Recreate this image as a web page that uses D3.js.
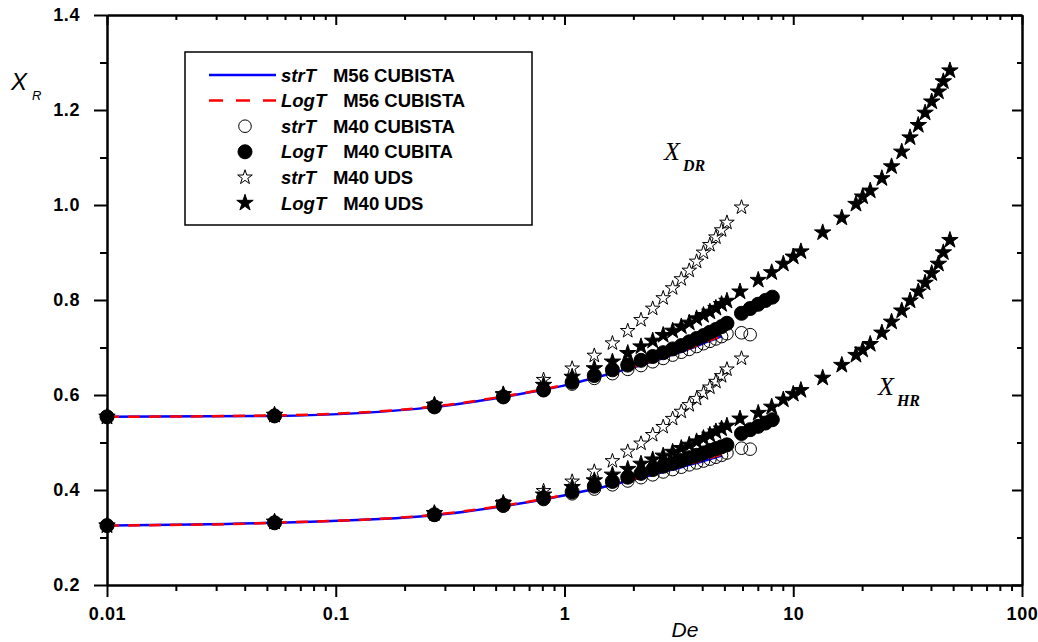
<!DOCTYPE html>
<html>
<head>
<meta charset="utf-8">
<script src="https://cdn.jsdelivr.net/npm/d3@7"></script>
<style>
  body { margin: 0; background: #fff; }
  svg { display: block; }
  .tick text { font-family: "Liberation Sans", Arial, sans-serif; font-weight: bold; font-size: 18px; letter-spacing: 0.6px; }
</style>
</head>
<body>
<div id="plot"></div>
<script>
// De sampling shared by the M40 runs (step 0.27)
var deGrid = [0.01, 0.054, 0.27, 0.54, 0.81, 1.08, 1.35, 1.62, 1.89, 2.16, 2.43,
  2.7, 2.97, 3.24, 3.51, 3.78, 4.05, 4.32, 4.59, 4.86, 5.13];

// M56 CUBISTA curves (lines)
var deM56 = deGrid.slice(0, 20);
var drM56Str = [0.554, 0.556, 0.575, 0.596, 0.611, 0.624, 0.636, 0.646, 0.655, 0.663, 0.671, 0.678, 0.685, 0.691, 0.697, 0.703, 0.709, 0.714, 0.719, 0.724];
var drM56Log = [0.554, 0.557, 0.576, 0.597, 0.612, 0.625, 0.637, 0.647, 0.656, 0.664, 0.672, 0.679, 0.686, 0.692, 0.698, 0.704, 0.710, 0.715, 0.720, 0.726];
var hrM56Str = [0.325, 0.331, 0.347, 0.366, 0.380, 0.392, 0.402, 0.411, 0.419, 0.426, 0.432, 0.438, 0.443, 0.448, 0.453, 0.457, 0.461, 0.465, 0.469, 0.472];
var hrM56Log = [0.325, 0.331, 0.348, 0.367, 0.381, 0.393, 0.403, 0.412, 0.420, 0.427, 0.434, 0.440, 0.445, 0.450, 0.455, 0.459, 0.463, 0.467, 0.471, 0.475];

// strT M40 CUBISTA (open circles)
var deStrCub = deGrid.concat([5.94, 6.48]);
var drStrCub = [0.554, 0.556, 0.575, 0.596, 0.610, 0.623, 0.635, 0.645, 0.654, 0.662, 0.670, 0.677, 0.684, 0.690, 0.696, 0.702, 0.708, 0.713, 0.718, 0.723, 0.729, 0.731, 0.727];
var hrStrCub = [0.325, 0.331, 0.347, 0.366, 0.380, 0.392, 0.402, 0.411, 0.419, 0.426, 0.432, 0.438, 0.443, 0.448, 0.453, 0.457, 0.461, 0.465, 0.469, 0.473, 0.478, 0.488, 0.486];

// LogT M40 CUBITA (filled circles)
var deLogCub = deGrid.concat([5.94, 6.48, 7.02, 7.56, 8.1]);
var drLogCub = [0.554, 0.556, 0.575, 0.596, 0.6105, 0.627, 0.641, 0.653, 0.663, 0.673, 0.681, 0.689, 0.697, 0.704, 0.712, 0.719, 0.725, 0.732, 0.738, 0.744, 0.751,
  0.772, 0.782, 0.791, 0.799, 0.806];
var hrLogCub = [0.325, 0.331, 0.348, 0.368, 0.3825, 0.396, 0.408, 0.418, 0.427, 0.435, 0.443, 0.450, 0.456, 0.462, 0.468, 0.473, 0.478, 0.483, 0.487, 0.491, 0.495,
  0.519, 0.527, 0.534, 0.541, 0.548];

// strT M40 UDS (open stars)
var deStrUds = deGrid.concat([5.94]);
var drStrUds = [0.554, 0.558, 0.580, 0.602, 0.632, 0.656, 0.683, 0.709, 0.735, 0.758, 0.782, 0.804, 0.825, 0.844, 0.862, 0.881, 0.900, 0.916, 0.932, 0.947, 0.963, 0.995];
var hrStrUds = [0.325, 0.333, 0.352, 0.374, 0.398, 0.418, 0.439, 0.461, 0.481, 0.498, 0.516, 0.533, 0.550, 0.565, 0.579, 0.592, 0.604, 0.616, 0.628, 0.640, 0.654, 0.677];

// LogT M40 UDS (filled stars)
var deLogUds = deGrid.concat([5.85, 7.03, 8.05, 9.05, 10.0, 10.8, 13.45, 16.3, 18.8, 20.1, 21.7, 24.4, 26.9, 29.8, 32.4, 35.2, 37.7, 40.3, 43.1, 45.3, 48.4]);
var drLogUds = [0.554, 0.558, 0.579, 0.601, 0.621, 0.638, 0.656, 0.670, 0.688, 0.702, 0.714, 0.726, 0.735, 0.744, 0.752, 0.761, 0.768, 0.775, 0.783, 0.791, 0.798,
  0.8175, 0.842, 0.858, 0.876, 0.891, 0.902, 0.942, 0.973, 1.002, 1.0175, 1.030, 1.056, 1.081, 1.112, 1.142, 1.168, 1.194, 1.2175, 1.2385, 1.260, 1.283];
var hrLogUds = [0.325, 0.333, 0.351, 0.372, 0.390, 0.406, 0.420, 0.432, 0.444, 0.455, 0.464, 0.472, 0.480, 0.488, 0.495, 0.502, 0.509, 0.516, 0.523, 0.529, 0.535,
  0.550, 0.562, 0.575, 0.590, 0.602, 0.610, 0.636, 0.663, 0.684, 0.695, 0.707, 0.731, 0.754, 0.7775, 0.7985, 0.8175, 0.836, 0.856, 0.876, 0.900, 0.926];

// axis ticks
var xTicks = [0.01, 0.1, 1, 10, 100];
var xTickLabels = ["0.01", "0.1", "1", "10", "100"];
var yTicks = [0.2, 0.4, 0.6, 0.8, 1.0, 1.2, 1.4];
var yTickLabels = ["0.2", "0.4", "0.6", "0.8", "1.0", "1.2", "1.4"];
var yMinor = [0.3, 0.5, 0.7, 0.9, 1.1, 1.3];

var legendItems = [
  {it: "strT", rest: "M56 CUBISTA", kind: "blue"},
  {it: "LogT", rest: "M56 CUBISTA", kind: "red"},
  {it: "strT", rest: "M40 CUBISTA", kind: "ocirc"},
  {it: "LogT", rest: "M40 CUBITA", kind: "fcirc"},
  {it: "strT", rest: "M40 UDS", kind: "ostar"},
  {it: "LogT", rest: "M40 UDS", kind: "fstar"}
];

var width = 1038, height = 642;
var x0 = 107, x1 = 1022, yTop = 15, yBot = 585;

var x = d3.scaleLog().domain([0.01, 100]).range([x0, x1]);
var y = d3.scaleLinear().domain([0.2, 1.4]).range([yBot, yTop]);

var xMinor = [];
[0.01, 0.1, 1, 10].forEach(function(dec) {
  d3.range(2, 10).forEach(function(k) { xMinor.push(+(dec * k).toPrecision(3)); });
});

var svg = d3.select("#plot").append("svg")
  .attr("width", width)
  .attr("height", height);

function thick(g) {
  g.select(".domain").attr("stroke-width", 2);
  g.selectAll(".tick line").attr("stroke-width", 2);
}

// bottom axis
svg.append("g").attr("transform", "translate(0," + yBot + ")")
  .call(d3.axisBottom(x).tickValues(xMinor).tickSize(6).tickSizeOuter(0).tickFormat(""))
  .call(thick);
svg.append("g").attr("transform", "translate(0," + yBot + ")")
  .call(d3.axisBottom(x).tickValues(xTicks).tickSize(12).tickPadding(10).tickSizeOuter(0)
    .tickFormat(function(d, i) { return xTickLabels[i]; }))
  .call(thick);

// top axis, ticks inside
svg.append("g").attr("transform", "translate(0," + yTop + ")")
  .call(d3.axisTop(x).tickValues(xMinor).tickSize(-5).tickSizeOuter(0).tickFormat(""))
  .call(thick);
svg.append("g").attr("transform", "translate(0," + yTop + ")")
  .call(d3.axisTop(x).tickValues(xTicks).tickSize(-10).tickSizeOuter(0).tickFormat(""))
  .call(thick);

// left axis
svg.append("g").attr("transform", "translate(" + x0 + ",0)")
  .call(d3.axisLeft(y).tickValues(yMinor).tickSize(7).tickSizeOuter(0).tickFormat(""))
  .call(thick);
svg.append("g").attr("transform", "translate(" + x0 + ",0)")
  .call(d3.axisLeft(y).tickValues(yTicks).tickSize(13).tickPadding(14).tickSizeOuter(0)
    .tickFormat(function(d, i) { return yTickLabels[i]; }))
  .call(thick);

// right axis, ticks inside
svg.append("g").attr("transform", "translate(" + x1 + ",0)")
  .call(d3.axisRight(y).tickValues(yMinor).tickSize(-5).tickSizeOuter(0).tickFormat(""))
  .call(thick);
svg.append("g").attr("transform", "translate(" + x1 + ",0)")
  .call(d3.axisRight(y).tickValues(yTicks).tickSize(-10).tickSizeOuter(0).tickFormat(""))
  .call(thick);

// M56 lines
var line = d3.line()
  .x(function(d) { return x(d[0]); })
  .y(function(d) { return y(d[1]); })
  .curve(d3.curveMonotoneX);

[drM56Str, hrM56Str].forEach(function(vals) {
  svg.append("path")
    .datum(d3.zip(deM56, vals))
    .attr("d", line)
    .attr("fill", "none")
    .attr("stroke", "#0000ff")
    .attr("stroke-width", 2.5);
});
[drM56Log, hrM56Log].forEach(function(vals) {
  svg.append("path")
    .datum(d3.zip(deM56, vals))
    .attr("d", line)
    .attr("fill", "none")
    .attr("stroke", "#ff0000")
    .attr("stroke-width", 2.5)
    .attr("stroke-dasharray", "12,9");
});

var styles = {
  ocirc: {type: d3.symbolCircle, size: 125, fill: "none"},
  fcirc: {type: d3.symbolCircle, size: 155, fill: "#000"},
  ostar: {type: d3.symbolStar, size: 66, fill: "none"},
  fstar: {type: d3.symbolStar, size: 84, fill: "#000"}
};

function drawSymbols(de, vals, kind) {
  var st = styles[kind];
  svg.append("g")
    .selectAll("path")
    .data(d3.zip(de, vals))
    .enter().append("path")
    .attr("transform", function(d) { return "translate(" + x(d[0]) + "," + y(d[1]) + ")"; })
    .attr("d", d3.symbol().type(st.type).size(st.size))
    .attr("fill", st.fill)
    .attr("stroke", "#000")
    .attr("stroke-width", 1);
}

drawSymbols(deStrCub, drStrCub, "ocirc");
drawSymbols(deStrCub, hrStrCub, "ocirc");
drawSymbols(deLogCub, drLogCub, "fcirc");
drawSymbols(deLogCub, hrLogCub, "fcirc");
drawSymbols(deStrUds, drStrUds, "ostar");
drawSymbols(deStrUds, hrStrUds, "ostar");
drawSymbols(deLogUds, drLogUds, "fstar");
drawSymbols(deLogUds, hrLogUds, "fstar");

// legend
var legend = svg.append("g");
legend.append("rect")
  .attr("x", 185).attr("y", 52)
  .attr("width", 347).attr("height", 173)
  .attr("fill", "#fff")
  .attr("stroke", "#000")
  .attr("stroke-width", 1.5);

legendItems.forEach(function(item, i) {
  var ly = 75 + i * 25.6;
  if (item.kind == "blue" || item.kind == "red") {
    legend.append("line")
      .attr("x1", 209).attr("x2", 276)
      .attr("y1", ly).attr("y2", ly)
      .attr("stroke", item.kind == "blue" ? "#0000ff" : "#ff0000")
      .attr("stroke-width", 2.5)
      .attr("stroke-dasharray", item.kind == "red" ? "14,13" : null);
  } else {
    var st = styles[item.kind];
    legend.append("path")
      .attr("transform", "translate(245," + ly + ")")
      .attr("d", d3.symbol().type(st.type).size(st.size))
      .attr("fill", st.fill)
      .attr("stroke", "#000")
      .attr("stroke-width", 1);
  }
  var t = legend.append("text")
    .attr("x", 281).attr("y", ly + 6.5)
    .attr("font-family", "Liberation Sans, Arial, sans-serif")
    .attr("font-weight", "bold")
    .attr("font-size", 18.5);
  t.append("tspan").attr("font-style", "italic").text(item.it);
  t.append("tspan").attr("dx", 17).text(item.rest);
});

// curve labels
function curveLabel(lx, ly, sub) {
  var t = svg.append("text")
    .attr("x", lx).attr("y", ly)
    .attr("font-family", "Liberation Serif, Times New Roman, serif")
    .attr("font-style", "italic")
    .attr("font-size", 26);
  t.append("tspan").text("X");
  t.append("tspan").attr("dx", 3).attr("dy", 11)
    .attr("font-size", 16).attr("font-weight", "bold").text(sub);
}
curveLabel(664, 160, "DR");
curveLabel(878, 395, "HR");

// axis titles
var yl = svg.append("text")
  .attr("x", 11).attr("y", 90)
  .attr("font-family", "Liberation Sans, Arial, sans-serif")
  .attr("font-style", "italic")
  .attr("font-size", 24);
yl.append("tspan").text("X");
yl.append("tspan").attr("dx", 5).attr("dy", 10).attr("font-size", 13).text("R");

svg.append("text")
  .attr("x", 685).attr("y", 637)
  .attr("text-anchor", "middle")
  .attr("font-family", "Liberation Sans, Arial, sans-serif")
  .attr("font-style", "italic")
  .attr("font-size", 21)
  .text("De");
</script>
</body>
</html>
